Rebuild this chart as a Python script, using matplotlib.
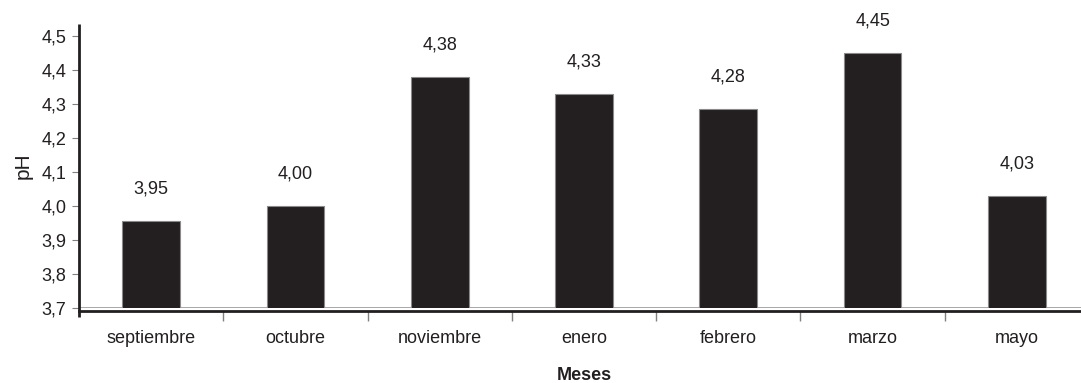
import matplotlib
matplotlib.use("Agg")
import matplotlib.pyplot as plt
from matplotlib.ticker import FixedLocator, FuncFormatter

categories = ["septiembre", "octubre", "noviembre", "enero", "febrero", "marzo", "mayo"]
values = [3.955, 4.00, 4.38, 4.33, 4.285, 4.45, 4.03]
labels = ["3,95", "4,00", "4,38", "4,33", "4,28", "4,45", "4,03"]
yticks = [3.7, 3.8, 3.9, 4.0, 4.1, 4.2, 4.3, 4.4, 4.5]

plt.rcParams['font.family'] = ['Liberation Sans', 'DejaVu Sans']

W, H = 1081, 383
fig = plt.figure(figsize=(W / 100, H / 100), dpi=100)
ax = fig.add_axes([79 / W, 75 / H, 1010 / W, 284 / H])

x = list(range(len(categories)))
ax.bar(x, values, width=0.40, bottom=0, color="#231f20", edgecolor="#8a8a8a",
       linewidth=0.8, zorder=3)
ax.axhline(3.7, color="#9a9a9a", lw=1.2, zorder=2)

for xi, v, lab in zip(x, values, labels):
    ax.annotate(lab, (xi, v), xytext=(0, 32), textcoords="offset pixels",
                ha="center", va="center", fontsize=13, color="#231f20")

ax.set_xlim(-0.5, len(categories) - 0.5)
ax.set_ylim(3.7, 3.7 + 284 / 340)

ax.yaxis.set_major_locator(FixedLocator(yticks))
ax.yaxis.set_major_formatter(FuncFormatter(lambda v, p: f"{v:.1f}".replace(".", ",")))
ax.set_xticks(x)
ax.set_xticklabels(categories)
ax.set_xticks([i + 0.5 for i in range(len(categories) - 1)], minor=True)

ax.tick_params(axis="y", direction="out", length=5, width=0.8, color="#808080",
               labelsize=13, labelcolor="#231f20", pad=4)
ax.tick_params(axis="x", which="major", length=0, labelsize=13,
               labelcolor="#231f20", pad=14)
ax.tick_params(axis="x", which="minor", direction="out", length=7, width=1.0,
               color="#808080")

for s in ["top", "right"]:
    ax.spines[s].set_visible(False)
ax.spines["left"].set_visible(False)
ax.spines["bottom"].set_color("#231f20")
ax.spines["bottom"].set_linewidth(2.0)
ax.spines["bottom"].set_position(("outward", 2))

# left axis line extending slightly below the plot area
ax.plot([0, 0], [-9 / 284, 1.0], transform=ax.transAxes, color="#231f20",
        lw=2.0, clip_on=False, zorder=5, solid_capstyle="butt")

ax.set_ylabel("pH", fontsize=15, color="#231f20", labelpad=6)
ax.set_xlabel("Meses", fontsize=13, fontweight="bold", color="#231f20")
ax.xaxis.set_label_coords(0.5, -(367 - 308) / 284)
ax.xaxis.label.set_va("top")

fig.savefig("out.png", dpi=100)
